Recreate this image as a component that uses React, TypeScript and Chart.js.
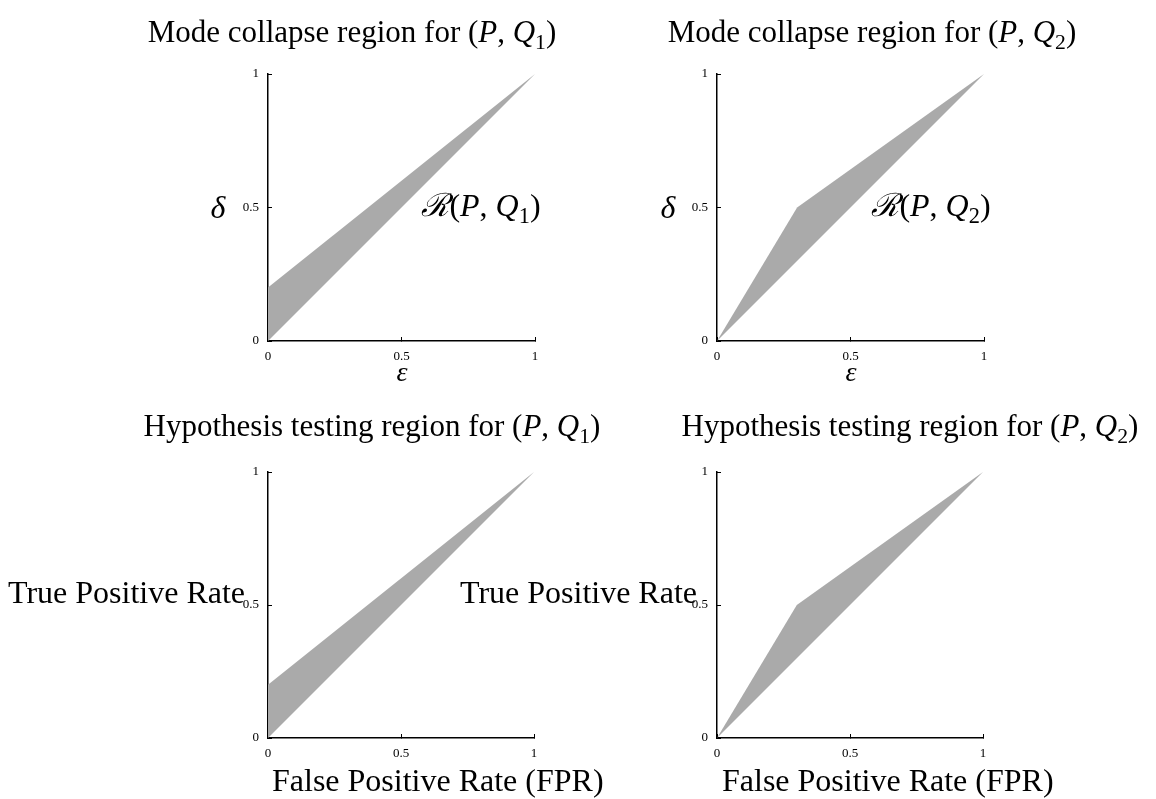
import React, { useEffect, useRef } from 'react';
import { Chart, registerables } from 'chart.js';

Chart.register(...registerables);

// ---- data ----
const TICK_VALUES = [0, 0.5, 1];
const TICK_LABELS = ['0', '0.5', '1'];

// Region R(P, Q1): between upper and lower boundary
const Q1_UPPER_X = [0, 1];
const Q1_UPPER_Y = [0.2, 1];
const Q1_LOWER_X = [0, 1];
const Q1_LOWER_Y = [0, 1];

// Region R(P, Q2)
const Q2_UPPER_X = [0, 0.3, 1];
const Q2_UPPER_Y = [0, 0.5, 1];
const Q2_LOWER_X = [0, 1];
const Q2_LOWER_Y = [0, 1];

const TITLE_MODE = 'Mode collapse region for ';
const TITLE_HYP = 'Hypothesis testing region for ';
const Y_LABEL_HYP = 'True Positive Rate';
const X_LABEL_HYP = 'False Positive Rate (FPR)';

// ---- styling ----
const SERIF = '"Liberation Serif", "DejaVu Serif", serif';
const FILL = '#aaaaaa';
const AXIS_W = 50; // y axis box width
const X_AXIS_H = 40; // x axis box height
const PAD_T = 26;
const PAD_R = 24;

type PanelProps = {
  left: number;
  top: number;
  size: number;
  upperX: number[];
  upperY: number[];
  lowerX: number[];
  lowerY: number[];
};

function Panel({ left, top, size, upperX, upperY, lowerX, lowerY }: PanelProps) {
  const ref = useRef<HTMLCanvasElement | null>(null);
  const W = AXIS_W + size + PAD_R;
  const H = PAD_T + size + X_AXIS_H;

  useEffect(() => {
    if (!ref.current) return;
    const pts = (xs: number[], ys: number[]) => xs.map((x, i) => ({ x, y: ys[i] }));
    const setTicks = (s: any) => {
      s.ticks = TICK_VALUES.map((v) => ({ value: v }));
    };
    const fmt = (v: any) => {
      const i = TICK_VALUES.indexOf(Number(v));
      return i >= 0 ? TICK_LABELS[i] : '';
    };
    const common = {
      type: 'linear' as const,
      min: 0,
      max: 1,
      afterBuildTicks: setTicks,
      grid: {
        display: true,
        drawOnChartArea: false,
        drawTicks: true,
        tickLength: -4,
        color: '#000',
        lineWidth: 1,
      },
      border: { display: true, color: '#000', width: 1.5 },
    };
    const chart = new Chart(ref.current, {
      type: 'scatter',
      data: {
        datasets: [
          {
            data: pts(upperX, upperY),
            showLine: true,
            fill: '+1',
            backgroundColor: FILL,
            borderColor: FILL,
            borderWidth: 0,
            pointRadius: 0,
          },
          {
            data: pts(lowerX, lowerY),
            showLine: true,
            fill: false,
            backgroundColor: FILL,
            borderColor: FILL,
            borderWidth: 0,
            pointRadius: 0,
          },
        ],
      },
      options: {
        animation: false,
        responsive: false,
        devicePixelRatio: 1,
        layout: { padding: { top: PAD_T, right: PAD_R, left: 0, bottom: 0 } },
        plugins: { legend: { display: false }, tooltip: { enabled: false } },
        scales: {
          x: {
            ...common,
            position: 'bottom',
            afterFit: (s: any) => {
              s.height = X_AXIS_H;
            },
            ticks: {
              callback: fmt,
              autoSkip: false,
              maxRotation: 0,
              padding: 12,
              color: '#000',
              font: { family: SERIF, size: 13 },
            },
          },
          y: {
            ...common,
            position: 'left',
            afterFit: (s: any) => {
              s.width = AXIS_W;
            },
            ticks: {
              callback: fmt,
              autoSkip: false,
              padding: 13,
              color: '#000',
              font: { family: SERIF, size: 13 },
            },
          },
        },
      } as any,
    });
    return () => chart.destroy();
  }, []);

  return (
    <canvas
      ref={ref}
      width={W}
      height={H}
      style={{ position: 'absolute', left: left - AXIS_W, top: top - PAD_T, width: W, height: H }}
    />
  );
}

type TextProps = {
  x: number;
  y: number;
  size?: number;
  align?: 'left' | 'center' | 'right';
  italic?: boolean;
  children: React.ReactNode;
};

function Txt({ x, y, size = 32, align = 'center', italic = false, children }: TextProps) {
  const tx = align === 'center' ? '-50%' : align === 'right' ? '-100%' : '0';
  return (
    <div
      style={{
        position: 'absolute',
        left: x,
        top: y,
        transform: `translate(${tx}, -50%)`,
        whiteSpace: 'nowrap',
        fontFamily: SERIF,
        fontSize: size,
        lineHeight: 1,
        fontStyle: italic ? 'italic' : 'normal',
        color: '#000',
      }}
    >
      {children}
    </div>
  );
}

function PQ({ n }: { n: number }) {
  return (
    <span>
      (<i>P</i>, <i>Q</i>
      <span style={{ fontSize: '0.7em', position: 'relative', top: '0.3em', lineHeight: 0 }}>{n}</span>)
    </span>
  );
}

function RLabel({ n }: { n: number }) {
  return (
    <span>
      <span style={{ fontFamily: '"DejaVu Serif", serif', fontStyle: 'italic' }}>ℛ</span>
      <PQ n={n} />
    </span>
  );
}

export default function App() {
  const L1 = 268;
  const L2 = 717;
  const T1 = 74;
  const T2 = 472;
  const S = 267;
  return (
    <div style={{ position: 'absolute', left: 0, top: 0, width: 1156, height: 799, background: '#fff', overflow: 'hidden' }}>
      <Panel left={L1} top={T1} size={S} upperX={Q1_UPPER_X} upperY={Q1_UPPER_Y} lowerX={Q1_LOWER_X} lowerY={Q1_LOWER_Y} />
      <Panel left={L2} top={T1} size={S} upperX={Q2_UPPER_X} upperY={Q2_UPPER_Y} lowerX={Q2_LOWER_X} lowerY={Q2_LOWER_Y} />
      <Panel left={L1} top={T2} size={S - 1} upperX={Q1_UPPER_X} upperY={Q1_UPPER_Y} lowerX={Q1_LOWER_X} lowerY={Q1_LOWER_Y} />
      <Panel left={L2} top={T2} size={S - 1} upperX={Q2_UPPER_X} upperY={Q2_UPPER_Y} lowerX={Q2_LOWER_X} lowerY={Q2_LOWER_Y} />

      <Txt x={352} y={31} size={31}>{TITLE_MODE}<PQ n={1} /></Txt>
      <Txt x={872} y={31} size={31}>{TITLE_MODE}<PQ n={2} /></Txt>
      <Txt x={372} y={425} size={31}>{TITLE_HYP}<PQ n={1} /></Txt>
      <Txt x={910} y={425} size={31}>{TITLE_HYP}<PQ n={2} /></Txt>

      <Txt x={218} y={207} italic>δ</Txt>
      <Txt x={668} y={207} italic>δ</Txt>
      <Txt x={402} y={372} italic size={28}>ε</Txt>
      <Txt x={851} y={372} italic size={28}>ε</Txt>
      <Txt x={481} y={205}><RLabel n={1} /></Txt>
      <Txt x={931} y={205}><RLabel n={2} /></Txt>

      <Txt x={8} y={592} align="left">{Y_LABEL_HYP}</Txt>
      <Txt x={697} y={592} align="right">{Y_LABEL_HYP}</Txt>
      <Txt x={272} y={780} align="left">{X_LABEL_HYP}</Txt>
      <Txt x={722} y={780} align="left">{X_LABEL_HYP}</Txt>
    </div>
  );
}
